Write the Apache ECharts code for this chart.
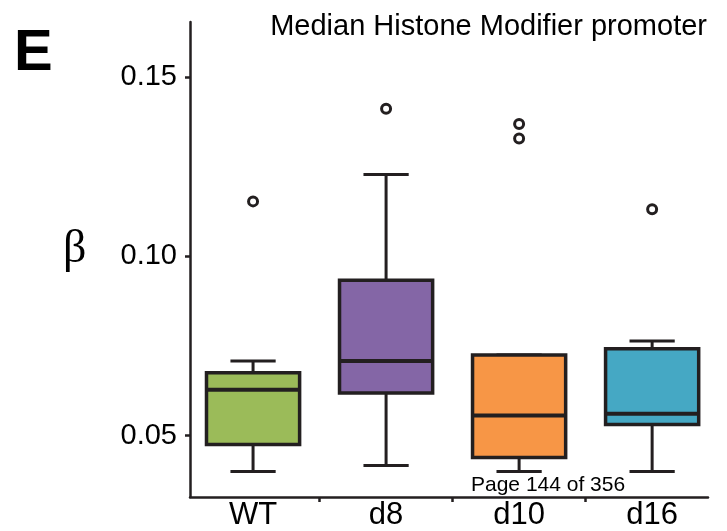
<!DOCTYPE html>
<html><head><meta charset="utf-8">
<script src="https://cdn.jsdelivr.net/npm/echarts@6/dist/echarts.min.js"></script>
<style>html,body{margin:0;padding:0;background:#fff}#c{width:727px;height:531px}</style>
</head><body><div id="c"></div>
<script>
var categories = ['WT', 'd8', 'd10', 'd16'];
// [min, Q1, median, Q3, max]
var boxWT  = [0.0400, 0.0475, 0.0628, 0.0675, 0.0708];
var boxD8  = [0.0417, 0.0619, 0.0708, 0.0933, 0.1228];
var boxD10 = [0.0400, 0.0439, 0.0556, 0.0725, 0.0725];
var boxD16 = [0.0400, 0.0531, 0.0561, 0.0742, 0.0764];
var outliers = [[0, 0.1153], [1, 0.1411], [2, 0.1369], [2, 0.1328], [3, 0.1131]];
var boxColors = ['#9bbb59', '#8466a6', '#f79646', '#45a8c4'];
var yTicks = [0.05, 0.10, 0.15];

var boxes = [boxWT, boxD8, boxD10, boxD16];
var boxData = boxes.map(function (b, i) { return [i].concat(b); });
var LINE = '#231f20';
var FONT = '"Liberation Sans Narrow", "Liberation Sans", Arial, sans-serif';

var chart = echarts.init(document.getElementById('c'));
chart.setOption({
  animation: false,
  backgroundColor: '#fff',
  title: [
    { text: 'Median Histone Modifier promoter', right: 15, top: 7,
      textStyle: { fontFamily: FONT, fontWeight: 'normal', fontSize: 29, color: '#000' } },
    { text: 'E', left: 9, top: 20,
      textStyle: { fontFamily: '"Liberation Sans", Arial, sans-serif', fontWeight: 'bold', fontSize: 58, color: '#000' } },
    { text: 'β', left: 63, top: 227, padding: 0,
      textStyle: { fontFamily: '"Liberation Serif", "DejaVu Serif", serif', fontWeight: 'normal', fontSize: 46, lineHeight: 46, color: '#000' } },
    { text: 'Page 144 of 356', left: 466, top: 470,
      textStyle: { fontFamily: '"Liberation Sans", Arial, sans-serif', fontWeight: 'normal', fontSize: 21, color: '#000' } }
  ],
  grid: { left: 190, right: 19, top: 22, bottom: 32.5 },
  xAxis: {
    type: 'value', min: -0.474, max: 3.42,
    splitLine: { show: false },
    axisLine: { show: true, onZero: false, lineStyle: { color: LINE, width: 2.5 } },
    axisTick: { show: true, length: 5, customValues: [0.5, 1.5, 2.5], lineStyle: { color: LINE, width: 2.5 } },
    axisLabel: { customValues: [0, 1, 2, 3], margin: 3,
      formatter: function (v) { return categories[Math.round(v)]; },
      fontFamily: FONT, fontSize: 31, color: '#000' }
  },
  yAxis: {
    type: 'value', min: 0.0329, max: 0.1653,
    splitLine: { show: false },
    axisLine: { show: true, onZero: false, lineStyle: { color: LINE, width: 2.5 } },
    axisTick: { show: true, length: 5, customValues: yTicks, lineStyle: { color: LINE, width: 2.5 } },
    axisLabel: { customValues: yTicks, margin: 13,
      formatter: function (v) { return v.toFixed(2); },
      fontFamily: FONT, fontSize: 29, color: '#000' }
  },
  series: [
    {
      type: 'custom',
      data: boxData,
      renderItem: function (params, api) {
        var i = api.value(0);
        var band = api.size([1, 0])[0];
        var hw = band * 0.35, cw = band * 0.17;
        var pMin = api.coord([i, api.value(1)]);
        var pQ1 = api.coord([i, api.value(2)]);
        var pMed = api.coord([i, api.value(3)]);
        var pQ3 = api.coord([i, api.value(4)]);
        var pMax = api.coord([i, api.value(5)]);
        var x = pMin[0];
        var ls = { stroke: LINE, lineWidth: 3 };
        return { type: 'group', children: [
          { type: 'line', shape: { x1: x, y1: pQ1[1], x2: x, y2: pMin[1] }, style: ls },
          { type: 'line', shape: { x1: x, y1: pQ3[1], x2: x, y2: pMax[1] }, style: ls },
          { type: 'line', shape: { x1: x - cw, y1: pMin[1], x2: x + cw, y2: pMin[1] }, style: ls },
          { type: 'line', shape: { x1: x - cw, y1: pMax[1], x2: x + cw, y2: pMax[1] }, style: ls },
          { type: 'rect', shape: { x: x - hw, y: pQ3[1], width: 2 * hw, height: pQ1[1] - pQ3[1] },
            style: { fill: boxColors[i], stroke: LINE, lineWidth: 3.5 } },
          { type: 'line', shape: { x1: x - hw, y1: pMed[1], x2: x + hw, y2: pMed[1] }, style: { stroke: LINE, lineWidth: 4 } }
        ] };
      }
    },
    {
      type: 'scatter',
      data: outliers,
      symbol: 'circle', symbolSize: 9,
      itemStyle: { color: '#fff', borderColor: LINE, borderWidth: 3, opacity: 1 }
    }
  ]
});
</script></body></html>
